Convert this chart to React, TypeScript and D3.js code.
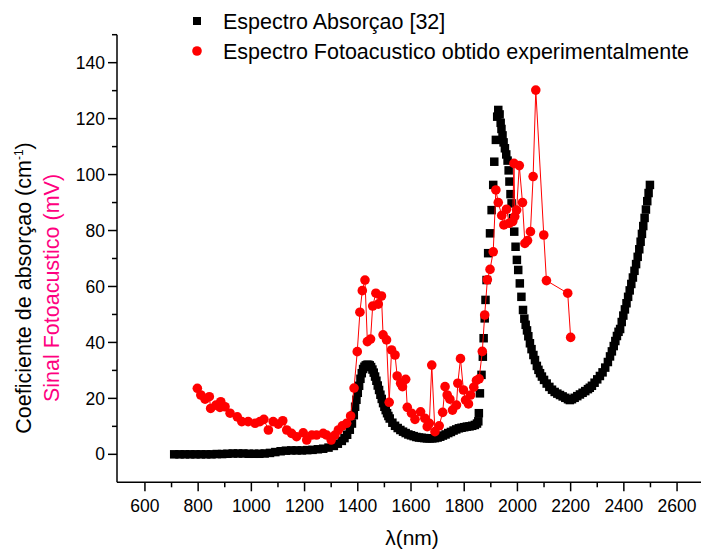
import React from "react";
import * as d3 from "d3";

// Absorption spectrum [32] (black squares)
const absWavelength = [
  710, 730, 750, 770, 790, 810, 830, 850, 870, 890, 910, 930, 950, 970, 990, 1010, 1030, 1050, 1070, 1090,
  1110, 1130, 1150, 1170, 1190, 1210, 1230, 1250, 1270, 1290, 1310, 1325, 1340, 1350, 1360, 1370, 1378, 1385,
  1390, 1395, 1400, 1405, 1410, 1415, 1420, 1425, 1430, 1435, 1440, 1445, 1450, 1455, 1460, 1465, 1470, 1475,
  1480, 1485, 1490, 1495, 1500, 1505, 1510, 1515, 1520, 1530, 1540, 1550, 1560, 1570, 1580, 1590, 1600, 1610,
  1620, 1630, 1640, 1650, 1660, 1670, 1680, 1690, 1700, 1710, 1720, 1730, 1740, 1750, 1760, 1770, 1780, 1790,
  1800, 1810, 1820, 1830, 1840, 1848, 1853, 1855, 1859, 1865, 1870, 1873, 1877, 1880, 1884, 1890, 1897, 1903,
  1909, 1913, 1919, 1924, 1928, 1933, 1937, 1940, 1944, 1948, 1953, 1958, 1963, 1967, 1970, 1974, 1978, 1983,
  1988, 1993, 1998, 2003, 2009, 2015, 2021, 2026, 2031, 2036, 2041, 2047, 2053, 2060, 2066, 2073, 2079, 2085,
  2092, 2100, 2110, 2120, 2130, 2140, 2150, 2160, 2170, 2180, 2190, 2197, 2205, 2215, 2225, 2235, 2245, 2255,
  2265, 2272, 2280, 2290, 2300, 2310, 2320, 2330, 2340, 2348, 2355, 2362, 2368, 2374, 2380, 2386, 2392, 2398,
  2404, 2410, 2416, 2422, 2428, 2434, 2440, 2446, 2452, 2458, 2463, 2468, 2473, 2478, 2483, 2488, 2493, 2498,
];
const absValues = [
  0, 0, 0, 0, 0, 0, 0, 0, 0.1, 0.1, 0.2, 0.3, 0.3, 0.3, 0.2, 0.2, 0.2, 0.3, 0.5, 0.8,
  1.1, 1.3, 1.4, 1.4, 1.4, 1.5, 1.6, 1.8, 2.0, 2.4, 3.0, 3.8, 4.8, 5.8, 7.0, 8.8, 11, 14,
  17, 19.5, 22, 24.5, 27, 29, 30.5, 31.3, 31.8, 32, 32, 31.8, 31.2, 30.3, 29.2, 27.8, 26.3, 24.6,
  23, 21.3, 19.8, 18.3, 17, 15.8, 14.7, 13.7, 12.8, 11.3, 10.2, 9.4, 8.7, 8.1, 7.6, 7.1, 6.8, 6.5,
  6.2, 6.0, 5.9, 5.8, 5.7, 5.7, 5.7, 5.8, 6.0, 6.3, 6.7, 7.1, 7.6, 8.0, 8.5, 8.9, 9.3, 9.5,
  9.7, 9.9, 10.0, 10.2, 10.5, 11.0, 11.8, 14.7, 21.8, 28.4, 34.9, 41.5, 48.6, 55.2, 62.3, 71.9, 79, 87.3,
  96.3, 104.6, 112.4, 120.7, 123.1, 121.5, 118.5, 116.3, 114, 111.5, 109.4, 107.2, 105, 101.5, 97.5, 93, 89.7, 84.4,
  79.6, 74.2, 69.5, 65.9, 61.1, 56.3, 51.6, 48.5, 46.3, 44.3, 42.2, 39.7, 37.6, 35.5, 33.7, 31.6, 30.2, 29,
  27.8, 26.6, 25.3, 24.1, 23.1, 22.3, 21.7, 21.2, 20.7, 20.2, 19.7, 19.4, 19.7, 20.2, 20.8, 21.4, 22, 22.6,
  23.3, 23.8, 24.5, 25.6, 26.8, 28, 29.3, 31, 33, 35, 36.8, 38.7, 40.5, 42.3, 43.8, 44.8, 47.3, 49.6,
  51.8, 54, 56.3, 58.6, 60.9, 63.2, 65.6, 68, 70.6, 73.3, 76, 78.8, 81.6, 84.5, 87.5, 90.5, 93.4, 96.3,
];

// Photoacoustic spectrum obtained experimentally (red circles + line)
const paWavelength = [
  797, 810, 826, 842, 847, 867, 882, 885, 901, 920, 947, 964, 988, 1014, 1032, 1047, 1064, 1082, 1101, 1118,
  1133, 1151, 1170, 1195, 1208, 1227, 1245, 1270, 1283, 1300, 1314, 1327, 1342, 1358, 1373, 1386, 1398, 1408,
  1417, 1427, 1436, 1448, 1456, 1468, 1477, 1489, 1495, 1508, 1518, 1527, 1540, 1548, 1561, 1568, 1580, 1586,
  1602, 1615, 1636, 1652, 1661, 1669, 1678, 1690, 1706, 1719, 1728, 1736, 1746, 1756, 1771, 1776, 1786, 1797,
  1805, 1816, 1824, 1836, 1846, 1856, 1868, 1877, 1887, 1897, 1909, 1919, 1928, 1941, 1949, 1959, 1969, 1982,
  1987, 1990, 1997, 2007, 2019, 2028, 2038, 2049, 2059, 2069, 2099, 2109, 2189, 2200,
];
const paValues = [
  23.6, 21.2, 19.7, 20.6, 16.4, 17.6, 16.8, 18.8, 17, 14.7, 13.4, 11.7, 11.7, 11.1, 11.7, 12.5, 8.7, 11.7, 10.8, 12,
  8.7, 7.5, 6.3, 7.7, 5.1, 6.9, 6.9, 7.5, 6.9, 5.1, 6.9, 8.7, 10.2, 11.1, 13.7, 23.7, 36.7, 50.8,
  58.5, 62.3, 40.3, 41.2, 53, 57.6, 53.7, 56.6, 42.7, 40.9, 18.6, 37.3, 35.5, 28, 25.4, 24.2, 26.8, 16.8,
  14.7, 12.5, 15.2, 12.9, 9.9, 11.1, 31.9, 8.1, 10.2, 15, 24.2, 21.2, 19.7, 15.8, 17.6, 25.4, 34.2, 23,
  19.4, 18, 21.2, 24, 26.4, 27, 36.8, 49.8, 62.4, 66.1, 72.4, 94.5, 90, 85.4, 82, 87.6, 82.6, 83.2,
  104, 85, 87.3, 103.2, 90, 75.4, 76.4, 79.6, 99.3, 130.2, 78.4, 62.1, 57.6, 41.8,
];

const xTicks = [600, 800, 1000, 1200, 1400, 1600, 1800, 2000, 2200, 2400, 2600];
const xMinorTicks = [700, 900, 1100, 1300, 1500, 1700, 1900, 2100, 2300, 2500, 2700];
const yTicks = [0, 20, 40, 60, 80, 100, 120, 140];
const yMinorTicks = [10, 30, 50, 70, 90, 110, 130, 150];

const legendLabels = ["Espectro Absorçao [32]", "Espectro Fotoacustico obtido experimentalmente"];

export default function App() {
  const W = 701;
  const H = 549;
  const x = d3.scaleLinear().domain([495, 2705]).range([117, 705]);
  const y = d3.scaleLinear().domain([-10, 150]).range([482.3, 34.7]);
  const axisX = 117;
  const axisY = 482.3;
  const font = "'Liberation Sans', Arial, sans-serif";

  const paIdx = paWavelength.map((_, i) => i);
  const paLine = d3
    .line<number>()
    .x((i) => x(paWavelength[i]))
    .y((i) => y(paValues[i]));

  const sq = 8.5;

  return (
    <svg
      width={W}
      height={H}
      style={{ position: "absolute", left: 0, top: 0, background: "#fff" }}
      fontFamily={font}
    >
      <rect x={0} y={0} width={W} height={H} fill="#fff" />
      {/* black absorption squares */}
      <g fill="#000">
        {absWavelength.map((w, i) => (
          <rect key={i} x={x(w) - sq / 2} y={y(absValues[i]) - sq / 2} width={sq} height={sq} />
        ))}
      </g>
      {/* red photoacoustic line and dots */}
      <path d={paLine(paIdx) || ""} fill="none" stroke="#ff0000" strokeWidth={1} />
      <g fill="#ff0000">
        {paWavelength.map((w, i) => (
          <circle key={i} cx={x(w)} cy={y(paValues[i])} r={4.8} />
        ))}
      </g>

      {/* axes */}
      <g stroke="#000" strokeWidth={1.5}>
        <line x1={axisX} y1={y(150)} x2={axisX} y2={axisY} />
        <line x1={axisX} y1={axisY} x2={W + 5} y2={axisY} />
        {yTicks.map((t) => (
          <line key={"yt" + t} x1={axisX - 9} x2={axisX} y1={y(t)} y2={y(t)} />
        ))}
        {yMinorTicks.map((t) => (
          <line key={"ym" + t} x1={axisX - 5} x2={axisX} y1={y(t)} y2={y(t)} />
        ))}
        {xTicks.map((t) => (
          <line key={"xt" + t} x1={x(t)} x2={x(t)} y1={axisY} y2={axisY + 9} />
        ))}
        {xMinorTicks.map((t) => (
          <line key={"xm" + t} x1={x(t)} x2={x(t)} y1={axisY} y2={axisY + 5} />
        ))}
      </g>
      <g fontSize={17.5} fill="#000">
        {yTicks.map((t) => (
          <text key={"yl" + t} x={axisX - 12} y={y(t)} dy="0.35em" textAnchor="end">
            {t}
          </text>
        ))}
        {xTicks.map((t) => (
          <text key={"xl" + t} x={x(t)} y={512} textAnchor="middle">
            {t}
          </text>
        ))}
      </g>

      {/* axis titles */}
      <text x={412} y={545} textAnchor="middle" fontSize={21} fill="#000">
        λ(nm)
      </text>
      <text transform="translate(23,288) rotate(-90)" textAnchor="middle" dy="0.35em" fontSize={21.5} fill="#000">
        <tspan>Coeficiente de absorçao (cm</tspan>
        <tspan dy={-8} fontSize={12}>-1</tspan>
        <tspan dy={8}>)</tspan>
      </text>
      <text transform="translate(51,288) rotate(-90)" textAnchor="middle" dy="0.35em" fontSize={21.5} fill="#ff0080">
        Sinal Fotoacustico (mV)
      </text>

      {/* legend */}
      <rect x={197 - 4} y={21 - 4} width={8} height={8} fill="#000" />
      <circle cx={197} cy={51} r={4.8} fill="#ff0000" />
      <text x={223} y={28.5} fontSize={21.5} fill="#000">
        {legendLabels[0]}
      </text>
      <text x={223} y={58.5} fontSize={21.5} fill="#000">
        {legendLabels[1]}
      </text>
    </svg>
  );
}
